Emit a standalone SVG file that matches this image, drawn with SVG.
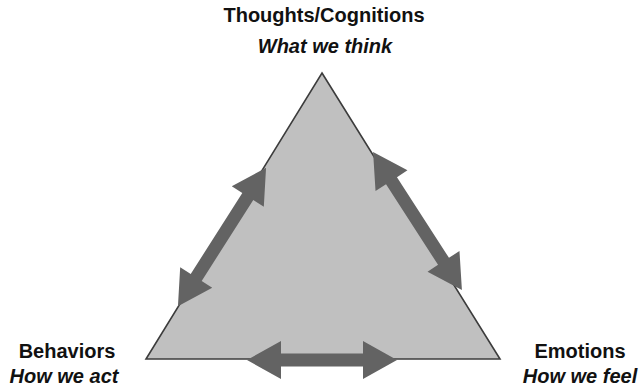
<svg xmlns="http://www.w3.org/2000/svg" width="644" height="387" viewBox="0 0 644 387">
<style>
.t{font-family:"Liberation Sans",Arial,sans-serif;font-size:20px;font-weight:bold;fill:#111;text-anchor:middle}
.i{font-style:italic}
.tri{fill:#c0c0c0;stroke:#3c3c3c;stroke-width:1.6;stroke-linejoin:miter}
.arr{fill:#636363}
</style>
<defs>
<path id="a164" d="M-82,0 L-48,-19 L-48,-6.5 L48,-6.5 L48,-19 L82,0 L48,19 L48,6.5 L-48,6.5 L-48,19 Z"/>
<path id="a150" d="M-75,0 L-41,-19 L-41,-6.5 L41,-6.5 L41,-19 L75,0 L41,19 L41,6.5 L-41,6.5 L-41,19 Z"/>
</defs>
<rect width="644" height="387" fill="#fff"/>
<g id="triangle">
<polygon class="tri" points="322,73 500,359 146,359"/>
</g>
<g id="thoughts">
<text class="t" x="324" y="22">Thoughts/Cognitions</text>
<text class="t i" x="325" y="53">What we think</text>
</g>
<g id="behaviors">
<text class="t" x="67" y="358">Behaviors</text>
<text class="t i" x="64" y="383">How we act</text>
</g>
<g id="emotions">
<text class="t" x="580" y="358">Emotions</text>
<text class="t i" x="580" y="383">How we feel</text>
</g>
<g id="connectors">
<use href="#a164" class="arr" transform="translate(222,237) rotate(-57.5)"/>
<use href="#a164" class="arr" transform="translate(417.5,221) rotate(57.2)"/>
<use href="#a150" class="arr" transform="translate(322,360)"/>
</g>
</svg>
